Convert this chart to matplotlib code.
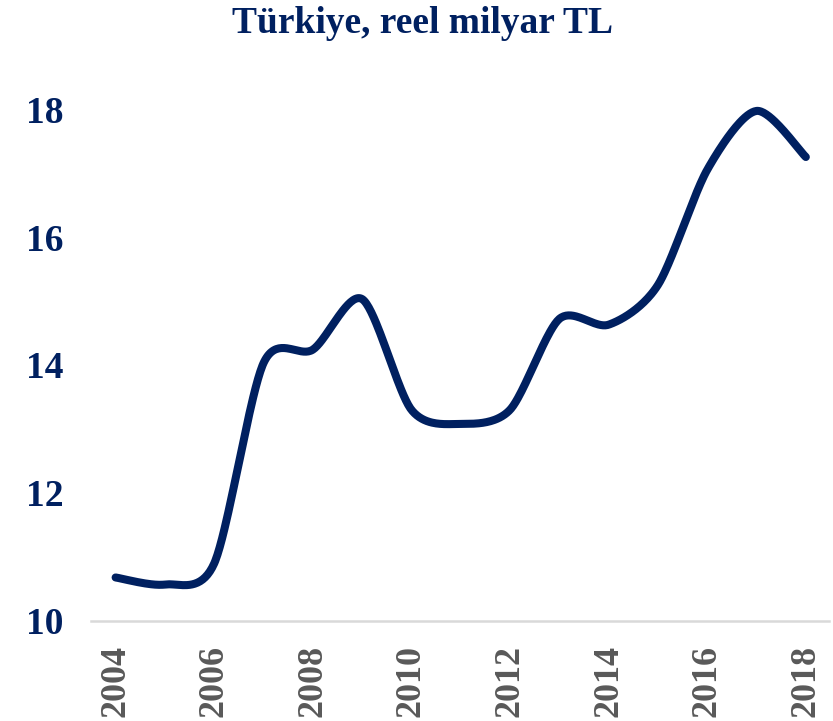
import numpy as np
import matplotlib
matplotlib.use("Agg")
import matplotlib.pyplot as plt

years = [2004, 2005, 2006, 2007, 2008, 2009, 2010, 2011, 2012, 2013, 2014, 2015, 2016, 2017, 2018]
values = [10.68, 10.57, 10.9, 14.03, 14.24, 15.03, 13.3, 13.08, 13.3, 14.72, 14.63, 15.25, 17.05, 17.97, 17.25]
yticks = [10, 12, 14, 16, 18]
xticks = [2004, 2006, 2008, 2010, 2012, 2014, 2016, 2018]
title = "Türkiye, reel milyar TL"

navy = "#002060"
gray = "#595959"

def cardinal(x, y, k=0.42, n=40):
    x = np.asarray(x, float); y = np.asarray(y, float)
    N = len(x)
    mx = np.zeros(N); my = np.zeros(N)
    for i in range(N):
        a = max(i - 1, 0); b = min(i + 1, N - 1)
        mx[i] = k * (x[b] - x[a]); my[i] = k * (y[b] - y[a])
    xs, ys = [], []
    t = np.linspace(0, 1, n, endpoint=False)
    h00 = 2*t**3 - 3*t**2 + 1; h10 = t**3 - 2*t**2 + t
    h01 = -2*t**3 + 3*t**2; h11 = t**3 - t**2
    for i in range(N - 1):
        xs.extend(h00*x[i] + h10*mx[i] + h01*x[i+1] + h11*mx[i+1])
        ys.extend(h00*y[i] + h10*my[i] + h01*y[i+1] + h11*my[i+1])
    xs.append(x[-1]); ys.append(y[-1])
    return np.array(xs), np.array(ys)

plt.rcParams['font.family'] = ['Liberation Serif', 'DejaVu Serif']
fig = plt.figure(figsize=(8.33, 7.21), dpi=100)
ax = fig.add_axes([0.1092, 0.1387, 0.886, 0.7545])

sx, sy = cardinal(years, values)
ax.plot(sx, sy, color=navy, lw=5.8, solid_capstyle='round', clip_on=False)

ax.set_xlim(2003.5, 2018.47)
ax.set_ylim(10, 18.5)
ax.set_yticks(yticks)
ax.set_xticks(xticks)
ax.set_yticklabels([str(v) for v in yticks], fontsize=27, fontweight='bold', color=navy)
ax.set_xticklabels([str(v) for v in xticks], fontsize=26, fontweight='bold', color=gray, rotation=90)
ax.tick_params(axis='y', length=0, pad=20)
ax.tick_params(axis='x', length=0, pad=17)
for s in ['top', 'right', 'left']:
    ax.spines[s].set_visible(False)
ax.spines['bottom'].set_color('#d9d9d9')
ax.spines['bottom'].set_linewidth(1.8)

fig.text(0.507, 0.967, title, ha='center', va='center', fontsize=27, fontweight='bold', color=navy)

fig.savefig("out.png", dpi=100)
